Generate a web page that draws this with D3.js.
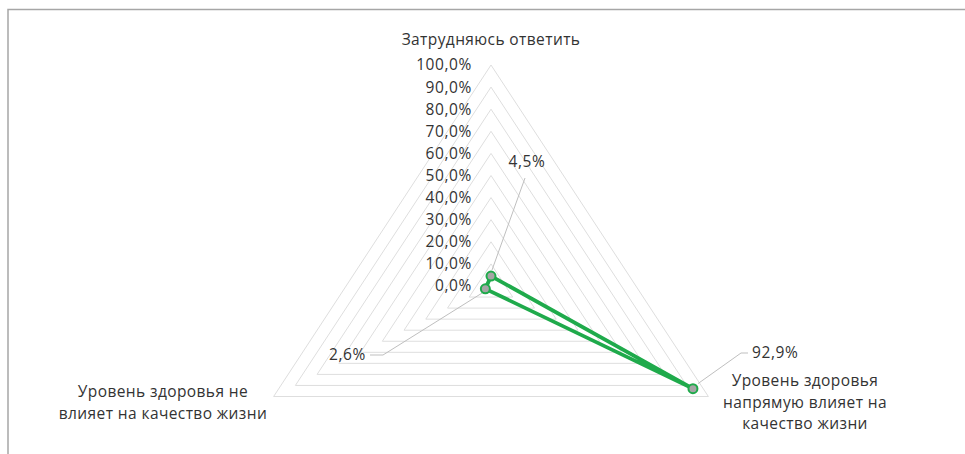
<!DOCTYPE html>
<html>
<head>
<meta charset="utf-8">
<script src="https://cdn.jsdelivr.net/npm/d3@7/dist/d3.min.js"></script>
<style>
  html, body { margin: 0; padding: 0; background: #fff; }
  svg { display: block; }
  text { font-family: "Open Sans", sans-serif; fill: #333333; }
</style>
</head>
<body>
<svg id="chart" width="965" height="454"></svg>
<script>
// ---- data ----
const categories = [
  ["Затрудняюсь ответить"],
  ["Уровень здоровья", "напрямую влияет на", "качество жизни"],
  ["Уровень здоровья не", "влияет на качество жизни"]
];
const values = [0.045, 0.929, 0.026];
const valueLabels = ["4,5%", "92,9%", "2,6%"];
const tickValues = [0, 0.1, 0.2, 0.3, 0.4, 0.5, 0.6, 0.7, 0.8, 0.9, 1.0];
const tickLabels = ["0,0%", "10,0%", "20,0%", "30,0%", "40,0%", "50,0%", "60,0%", "70,0%", "80,0%", "90,0%", "100,0%"];

const svg = d3.select("#chart");

// chart border (partial frame, clipped by window)
svg.append("rect").attr("x", 8).attr("y", 9.5).attr("width", 1000).attr("height", 500)
  .attr("fill", "none").attr("stroke", "#a6a6a6").attr("stroke-width", 1.5);

const cx = 491, cy = 286;
const rx = d3.scaleLinear().domain([0, 1]).range([0, 251]);
const ry = d3.scaleLinear().domain([0, 1]).range([0, 221]);
const n = categories.length;
const angle = i => i * 2 * Math.PI / n;
const px = (i, v) => cx + rx(v) * Math.sin(angle(i));
const py = (i, v) => cy - ry(v) * Math.cos(angle(i));

const g = svg.append("g");

// grid triangles
tickValues.filter(t => t > 0).forEach(t => {
  const pts = d3.range(n).map(i => [px(i, t), py(i, t)]);
  g.append("path")
    .attr("d", d3.line()(pts) + "Z")
    .attr("fill", "none").attr("stroke", "#dedede").attr("stroke-width", 1);
});

// tick labels
tickValues.forEach((t, k) => {
  g.append("text").attr("x", cx - 19).attr("y", py(0, t)).attr("dy", "0.35em")
    .attr("text-anchor", "end").attr("font-size", 15.5).attr("letter-spacing", 0.6)
    .text(tickLabels[k]);
});

// category labels
const catPos = [
  { x: 491, y: 40 },
  { x: 805, y: 381 },
  { x: 163, y: 392 }
];
categories.forEach((lines, i) => {
  lines.forEach((ln, j) => {
    g.append("text").attr("x", catPos[i].x).attr("y", catPos[i].y + j * 21.5)
      .attr("dy", "0.35em").attr("text-anchor", "middle")
      .attr("font-size", 15.5).attr("letter-spacing", 0.4)
      .text(ln);
  });
});

// leader lines + value labels
const leaders = [
  { pts: [[px(0, values[0]) + 1, py(0, values[0]) - 6], [525, 178]], lx: 527, ly: 162, anchor: "middle" },
  { pts: [[px(1, values[1]) + 5, py(1, values[1]) - 5], [741, 353], [748, 353]], lx: 752, ly: 353, anchor: "start" },
  { pts: [[px(2, values[2]) - 3, py(2, values[2]) + 4], [383, 355], [370, 355]], lx: 366, ly: 355, anchor: "end" }
];
leaders.forEach((L, i) => {
  g.append("path").attr("d", d3.line()(L.pts))
    .attr("fill", "none").attr("stroke", "#bfbfbf").attr("stroke-width", 1);
  g.append("text").attr("x", L.lx).attr("y", L.ly).attr("dy", "0.35em")
    .attr("text-anchor", L.anchor).attr("font-size", 15.5).attr("letter-spacing", 0.6)
    .text(valueLabels[i]);
});

// data polygon
const dataPts = values.map((v, i) => [px(i, v), py(i, v)]);
g.append("path").attr("d", d3.line()(dataPts) + "Z")
  .attr("fill", "none").attr("stroke", "#1faa4b").attr("stroke-width", 3.8)
  .attr("stroke-linejoin", "round");
g.selectAll("circle.pt").data(dataPts).enter().append("circle")
  .attr("class", "pt").attr("cx", d => d[0]).attr("cy", d => d[1]).attr("r", 4.5)
  .attr("fill", "#a5a5a5").attr("stroke", "#1faa4b").attr("stroke-width", 2);
</script>
</body>
</html>
